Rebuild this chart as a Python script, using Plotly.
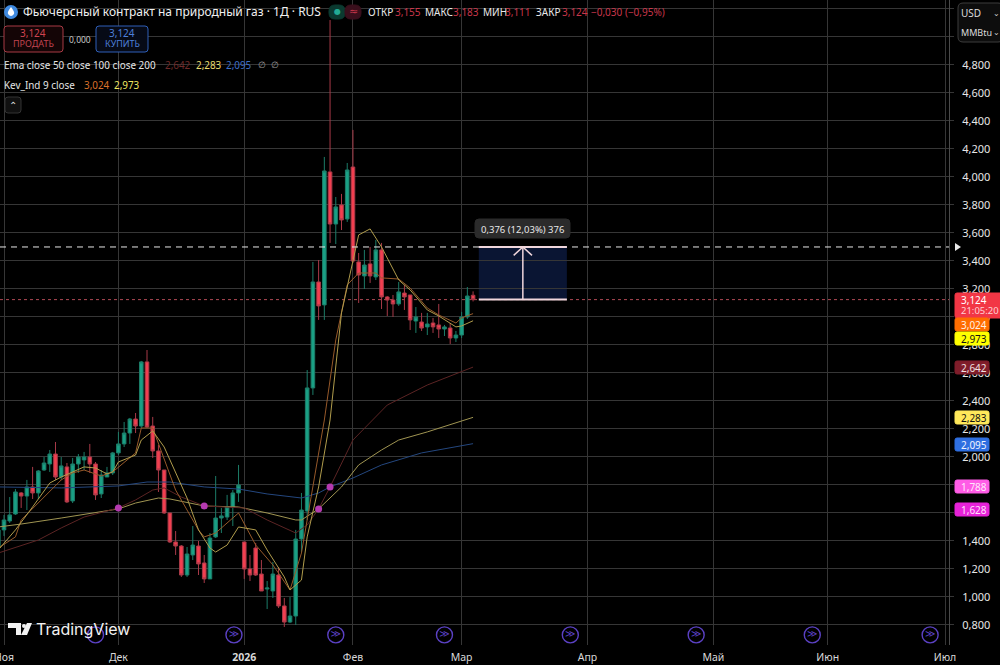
import plotly.graph_objects as go

# daily bars, bar number is the x value
opens = [1.350,1.479,1.543,1.593,1.743,1.721,1.786,1.743,1.907,1.950,2.021,1.857,1.929,1.686,1.950,1.979,2.000,1.950,1.736,1.857,1.886,
         2.029,2.093,2.171,2.271,2.221,2.679,2.221,2.043,1.907,1.600,1.393,1.364,1.157,1.300,1.364,1.243,1.129,1.429,1.564,1.571,1.643,
         1.743,1.393,1.200,1.350,1.164,1.057,1.043,1.157,0.936,0.821,0.864,1.414,1.614,2.493,3.250,3.086,4.036,3.664,3.800,3.700,
         4.071,3.393,3.293,3.379,3.286,3.479,3.143,3.121,3.093,3.171,3.157,2.971,2.964,2.929,2.957,2.943,2.914,2.921,2.850,2.871,3.000,3.155]
highs = [1.493,1.586,1.714,1.771,1.750,1.836,1.929,1.907,2.000,2.050,2.107,2.000,1.957,1.993,2.021,2.036,2.093,1.964,1.907,1.929,2.036,
         2.179,2.250,2.279,2.314,2.686,2.764,2.286,2.086,1.907,1.600,1.471,1.371,1.357,1.507,1.400,1.300,1.457,1.864,1.636,1.729,1.764,
         1.943,1.393,1.300,1.386,1.264,1.114,1.250,1.214,0.993,1.000,1.479,1.743,2.621,3.393,3.407,4.143,5.121,3.857,3.879,4.100,
         4.336,3.457,3.479,3.500,3.550,3.529,3.150,3.157,3.250,3.229,3.157,3.071,3.029,3.029,2.993,3.093,2.943,2.957,2.900,3.036,3.214,3.183]
lows = [1.314,1.436,1.529,1.586,1.636,1.621,1.700,1.700,1.900,1.893,1.836,1.836,1.671,1.671,1.886,1.907,1.886,1.693,1.707,1.857,1.871,
        2.014,2.071,2.093,2.171,2.207,2.207,1.993,1.750,1.593,1.386,1.300,1.143,1.143,1.264,1.157,1.100,1.129,1.421,1.457,1.550,1.507,
        1.679,1.129,1.114,1.150,1.043,0.914,0.993,0.921,0.786,0.814,0.800,1.321,1.550,2.443,2.979,2.979,3.529,3.521,3.621,3.679,
        3.386,3.100,3.200,3.243,3.264,3.057,3.007,3.000,3.079,3.050,2.907,2.886,2.900,2.871,2.886,2.850,2.864,2.807,2.821,2.850,2.986,3.111]
closes = [1.479,1.550,1.586,1.750,1.721,1.786,1.743,1.900,1.957,2.021,1.857,1.936,1.679,1.950,2.000,2.000,1.950,1.729,1.871,1.886,2.029,
          2.093,2.171,2.271,2.221,2.679,2.214,2.043,1.907,1.600,1.393,1.364,1.157,1.307,1.371,1.236,1.129,1.421,1.564,1.579,1.643,1.743,
          1.800,1.200,1.157,1.157,1.043,1.064,1.164,0.936,0.821,0.864,1.414,1.621,2.493,3.250,3.079,4.043,3.664,3.786,3.693,4.050,
          3.400,3.300,3.371,3.293,3.479,3.143,3.121,3.093,3.179,3.143,2.979,3.000,2.921,2.950,2.929,2.914,2.929,2.850,2.871,3.000,3.150,3.124]
bars = list(range(len(closes)))

# indicator lines at their bends
kev_fast_x = [0,3,4,8,11,13,15,18,20,24,25,27,29,31,33,35,36,38,42,45,48,51,53,56,57,59,61,63,66,67,70,72,75,77,80,81,83]
kev_fast_y = [1.350,1.429,1.550,1.714,1.836,1.886,1.907,1.864,1.893,2.029,2.207,2.207,1.979,1.764,1.621,1.479,1.429,1.457,1.600,1.371,
              1.229,1.050,1.314,2.029,2.264,2.836,3.229,3.314,3.314,3.279,3.271,3.207,3.064,3.014,2.957,2.993,3.024]
kev_slow_x = [0,3,6,9,11,15,17,19,20,21,24,25,27,29,33,35,37,38,40,42,45,47,50,51,53,54,56,58,60,62,63,65,67,70,72,75,77,80,81,83]
kev_slow_y = [1.336,1.479,1.643,1.814,1.857,1.929,1.921,1.879,1.893,1.964,2.014,2.121,2.186,2.071,1.707,1.479,1.350,1.321,1.371,1.500,
              1.479,1.336,1.143,1.050,1.121,1.429,1.786,2.264,3.029,3.407,3.586,3.629,3.500,3.264,3.193,3.050,3.007,2.929,2.936,2.973]
ema50_x = [0,7,11,15,21,24,27,29,32,36,43,47,52,54,56,58,62,68,75,83]
ema50_y = [1.314,1.407,1.493,1.571,1.636,1.693,1.764,1.779,1.714,1.650,1.636,1.550,1.457,1.514,1.629,1.786,2.121,2.371,2.514,2.642]
ema100_x = [0,4,11,21,24,28,30,36,42,47,52,53,56,60,63,67,70,75,83]
ema100_y = [1.500,1.521,1.564,1.629,1.671,1.707,1.700,1.650,1.643,1.600,1.550,1.550,1.629,1.786,1.943,2.050,2.121,2.179,2.283]
ema200_x = [0,11,21,26,30,36,42,47,53,56,58,62,67,74,83]
ema200_y = [1.786,1.779,1.793,1.821,1.821,1.786,1.771,1.736,1.707,1.743,1.786,1.850,1.943,2.029,2.095]
cross_x = [21, 36, 56, 58]
cross_y = [1.636, 1.650, 1.629, 1.786]

# time axis
month_bars = [1, 21, 43, 62, 81, 103, 125, 145, 165.5]
month_names = ["Ноя", "Дек", "<b>2026</b>", "Фев", "Мар", "Апр", "Май", "Июн", "Июл"]
event_bars = [17, 41.2, 59, 78, 100, 122, 142.3, 162.9]
event_marks = ["", "≫", "≫", "≫", "≫", "≫", "≫", "≫"]
event_level = 0.729

# price axis, the ticks under the tags and the unit box carry no label
price_labels = ["0,800", "1,000", "1,200", "1,400", "", "", "2,000", "2,200", "2,400", "2,600", "2,800", "3,000",
                "3,200", "3,400", "3,600", "3,800", "4,000", "4,200", "4,400", "4,600", "4,800", "", ""]
price_ticks = [0.8 + 0.2 * i for i in range(len(price_labels))]

last_close = 3.124
target = 3.5
tool_start = 84
tool_end = 99.4
tool_mid = 91.7

FONT = "Noto Sans"
GRID = "#363636"
RED = "#f23f50"
TEAL = "#1aa085"
PLOT_W = 949
PLOT_H = 645


# header and labels are placed by page pixel
def fx(px):
    return px / PLOT_W


def fy(py):
    return 1 - py / PLOT_H


fig = go.Figure()

fig.add_trace(go.Scatter(x=ema200_x, y=ema200_y, mode="lines", line=dict(color="#24477f", width=1)))
fig.add_trace(go.Scatter(x=ema100_x, y=ema100_y, mode="lines", line=dict(color="#a09552", width=1)))
fig.add_trace(go.Scatter(x=ema50_x, y=ema50_y, mode="lines", line=dict(color="#5c2424", width=1)))

fig.add_trace(go.Candlestick(
    x=bars, open=opens, high=highs, low=lows, close=closes,
    increasing=dict(line=dict(color="#1c7c68", width=1), fillcolor=TEAL),
    decreasing=dict(line=dict(color="#a83a48", width=1), fillcolor=RED),
    whiskerwidth=0,
))

fig.add_trace(go.Scatter(x=kev_fast_x, y=kev_fast_y, mode="lines", line=dict(color="#96592a", width=1)))
fig.add_trace(go.Scatter(x=kev_slow_x, y=kev_slow_y, mode="lines", line=dict(color="#b09c4c", width=1)))
fig.add_trace(go.Scatter(x=cross_x, y=cross_y, mode="markers", marker=dict(color="#b53ab0", size=7)))

# event circles along the bottom
fig.add_trace(go.Scatter(
    x=event_bars, y=[event_level] * len(event_bars), mode="markers+text",
    marker=dict(symbol="circle-open", size=16, color="#5b41c4", line=dict(width=1.4, color="#5b41c4")),
    text=event_marks, textposition="middle center",
    textfont=dict(color="#5b41c4", size=10, family="DejaVu Sans"),
))

shapes = [
    # position tool
    dict(type="rect", x0=tool_start, x1=tool_end, y0=last_close, y1=target, fillcolor="#0a1533", line_width=0, layer="below"),
    dict(type="line", x0=0, x1=1, xref="paper", y0=last_close, y1=last_close, line=dict(color="#b04a55", width=1, dash="dot"), layer="below"),
    dict(type="line", x0=0, x1=1, xref="paper", y0=target, y1=target, line=dict(color="#e8e8e8", width=1, dash="6px,5px")),
    dict(type="line", x0=tool_start, x1=tool_end, y0=target, y1=target, line=dict(color="#f0d6dc", width=2)),
    dict(type="line", x0=tool_start, x1=tool_end, y0=last_close, y1=last_close, line=dict(color="#f0d6dc", width=2)),
    dict(type="line", x0=tool_mid, x1=tool_mid, y0=last_close, y1=target, line=dict(color="#f0d6dc", width=1.5)),
    dict(type="line", x0=tool_mid - 1.6, x1=tool_mid, y0=target - 0.06, y1=target, line=dict(color="#f0d6dc", width=1.5)),
    dict(type="line", x0=tool_mid + 1.6, x1=tool_mid, y0=target - 0.06, y1=target, line=dict(color="#f0d6dc", width=1.5)),
]


def box(x0, x1, y0, y1, fill="rgba(0,0,0,0)", edge=None, r=3):
    # rounded rectangle given in page pixels
    path = (f"M {fx(x0 + r)} {fy(y0)} L {fx(x1 - r)} {fy(y0)} Q {fx(x1)} {fy(y0)} {fx(x1)} {fy(y0 + r)} "
            f"L {fx(x1)} {fy(y1 - r)} Q {fx(x1)} {fy(y1)} {fx(x1 - r)} {fy(y1)} "
            f"L {fx(x0 + r)} {fy(y1)} Q {fx(x0)} {fy(y1)} {fx(x0)} {fy(y1 - r)} "
            f"L {fx(x0)} {fy(y0 + r)} Q {fx(x0)} {fy(y0)} {fx(x0 + r)} {fy(y0)} Z")
    shapes.append(dict(type="path", path=path, xref="paper", yref="paper", fillcolor=fill,
                       line=dict(color=edge or fill, width=1)))


box(4, 63, 26, 52, fill="#140506", edge="#a83a44")
box(96, 148, 26, 52, fill="#060a16", edge="#2f5fb8")
box(5, 21, 97, 113, fill="#101010", edge="#333333")
box(958, 1003, 3, 42, fill="#0d0d0d", edge="#3d3d3d", r=5)
box(475, 570, 219, 238, fill="#2b2b2b", r=4)
box(329, 345, 5, 19, fill="#0b3a30", r=6)
box(345, 361, 5, 19, fill="#3a0f1c", r=6)

# symbol logo, blue disc with a white drop
shapes.append(dict(type="circle", xref="paper", yref="paper", fillcolor="#3f8ae0", line_width=0,
                   x0=fx(4), x1=fx(18), y0=fy(19), y1=fy(5)))
shapes.append(dict(type="path", xref="paper", yref="paper", fillcolor="#ffffff", line_width=0,
                   path=f"M {fx(11)} {fy(7)} Q {fx(7)} {fy(12)} {fx(8)} {fy(14)} Q {fx(11)} {fy(18)} {fx(14)} {fy(14)} "
                        f"Q {fx(15)} {fy(12)} {fx(11)} {fy(7)} Z"))

texts = []


def label(px, py, text, color="#e6e6e6", size=10.5, anchor="left", font=FONT):
    texts.append(dict(x=fx(px), y=fy(py), xref="paper", yref="paper", text=text, showarrow=False, xanchor=anchor,
                      yanchor="middle", font=dict(color=color, size=size, family=font), borderpad=0, borderwidth=0))


# header row
label(23, 12, "Фьючерсный контракт на природный газ · 1Д · RUS", color="#f0f0f0", size=12)
label(337, 12, "●", color="#22ab94", size=8, anchor="center", font="DejaVu Sans")
label(353, 12, "≈", color="#c8364a", size=11, anchor="center", font="DejaVu Sans")
for px, word, vx, value in [(368, "ОТКР", 395, "3,155"), (425, "МАКС", 453, "3,183"),
                            (483, "МИН", 505, "3,111"), (536, "ЗАКР", 562, "3,124")]:
    label(px, 12, word, color="#e8e8e8", size=10)
    label(vx, 12, value, color="#c8364a", size=10)
label(591, 12, "−0,030 (−0,95%)", color="#c8364a", size=10)

# order buttons
label(33, 33, "3,124", color="#d04450", size=10, anchor="center")
label(33, 44, "ПРОДАТЬ", color="#c04450", size=9, anchor="center")
label(80, 39, "0,000", color="#c8c8c8", size=8.5, anchor="center")
label(122, 33, "3,124", color="#4d7fd8", size=10, anchor="center")
label(122, 44, "КУПИТЬ", color="#4d7fd8", size=9, anchor="center")

# indicator legend
label(4, 65, "Ema close 50 close 100 close 200", size=9.9)
label(165, 65, "2,642", color="#6e2a2a", size=9.9)
label(196, 65, "2,283", color="#e8dc70", size=9.9)
label(226, 65, "2,095", color="#3f6fc8", size=9.9)
label(258, 65, "∅", color="#9a9a9a", size=8.5)
label(271, 65, "∅", color="#9a9a9a", size=8.5)
label(4, 85, "Kev_Ind 9 close", size=9.9)
label(84, 85, "3,024", color="#d8702a", size=9.9)
label(114, 85, "2,973", color="#f0e860", size=9.9)
label(13, 105, "⌃", color="#d8d8d8", size=10, anchor="center", font="DejaVu Sans")

# unit selector
label(961, 13, "USD", color="#dddddd", size=10)
label(961, 32, "MMBtu", color="#dddddd", size=9)
label(996, 13, "⌄", color="#cccccc", size=8, anchor="center", font="DejaVu Sans")
label(996, 32, "⌄", color="#cccccc", size=8, anchor="center", font="DejaVu Sans")

# tool caption
label(522, 229, "0,376 (12,03%) 376", color="#e8e8e8", size=9.5, anchor="center")

# watermark
label(36, 629, "TradingView", color="#f2f2f2", size=16, font="Inter")
shapes.append(dict(type="path", xref="paper", yref="paper", fillcolor="#f2f2f2", line_width=0,
                   path=f"M {fx(8)} {fy(623)} L {fx(21)} {fy(623)} L {fx(21)} {fy(635)} L {fx(16)} {fy(635)} "
                        f"L {fx(16)} {fy(628)} L {fx(8)} {fy(628)} Z"))
shapes.append(dict(type="path", xref="paper", yref="paper", fillcolor="#f2f2f2", line_width=0,
                   path=f"M {fx(27)} {fy(623)} L {fx(32)} {fy(623)} L {fx(27)} {fy(635)} L {fx(21)} {fy(635)} Z"))
shapes.append(dict(type="circle", xref="paper", yref="paper", fillcolor="#f2f2f2", line_width=0,
                   x0=fx(22), x1=fx(26), y0=fy(628), y1=fy(624)))

# price tags on the right
tags = [
    (955, 989, 318, 331, "3,024", "#ff6d00", "#fff0e0"),
    (955, 989, 332, 345, "2,973", "#ffff00", "#111111"),
    (955, 989, 361, 374, "2,642", "#7f1d2a", "#f0e0e0"),
    (955, 989, 411, 424, "2,283", "#ffe85a", "#111111"),
    (955, 989, 438, 451, "2,095", "#2f6fe0", "#f0f4ff"),
    (955, 989, 480, 493, "1,788", "#ff5ce6", "#ffe8fb"),
    (955, 989, 503, 516, "1,628", "#e622d8", "#ffe0fa"),
]
box(955, 1003, 293, 318, fill="#f23645", r=2)
label(961, 300, "3,124", color="#ffffff", size=10)
label(961, 311, "21:05:20", color="#ffd0d4", size=9.5)
for x0, x1, y0, y1, word, fill, ink in tags:
    box(x0, x1, y0, y1, fill=fill, r=2)
    label(961, (y0 + y1) / 2, word, color=ink, size=10)

# little marker on the axis for the target level
shapes.append(dict(type="path", xref="paper", yref="paper", fillcolor="#e8e8e8", line_width=0,
                   path=f"M {fx(955)} {fy(243)} L {fx(961)} {fy(247)} L {fx(955)} {fy(251)} Z"))

fig.update_layout(
    width=1000,
    height=665,
    paper_bgcolor="#000000",
    plot_bgcolor="#000000",
    showlegend=False,
    margin=dict(l=0, r=51, t=0, b=20),
    boxgap=0.1,
    shapes=shapes,
    annotations=texts,
    font=dict(family=FONT, color="#dcdcdc", size=11),
    xaxis=dict(
        automargin=False,
        range=[0.3, 166.2],
        rangeslider=dict(visible=False),
        tickmode="array",
        tickvals=month_bars,
        ticktext=month_names,
        showgrid=True,
        gridcolor=GRID,
        gridwidth=1,
        zeroline=False,
        showline=False,
        ticks="",
        ticklabeloverflow="allow",
        ticklabelstandoff=4,
        tickfont=dict(size=10.5, color="#d8d8d8"),
    ),
    yaxis=dict(
        automargin=False,
        range=[0.657, 5.264],
        side="right",
        tickmode="array",
        tickvals=price_ticks,
        ticktext=price_labels,
        showgrid=True,
        gridcolor=GRID,
        gridwidth=1,
        zeroline=False,
        showline=True,
        linecolor="#4a4a4a",
        ticks="outside",
        ticklen=4,
        tickcolor=GRID,
        tickfont=dict(size=11, color="#e6e6e6"),
        ticklabelstandoff=6,
    ),
)

fig.write_html("out.html", config=dict(displayModeBar=False), post_script="document.body.style.margin='0';")
